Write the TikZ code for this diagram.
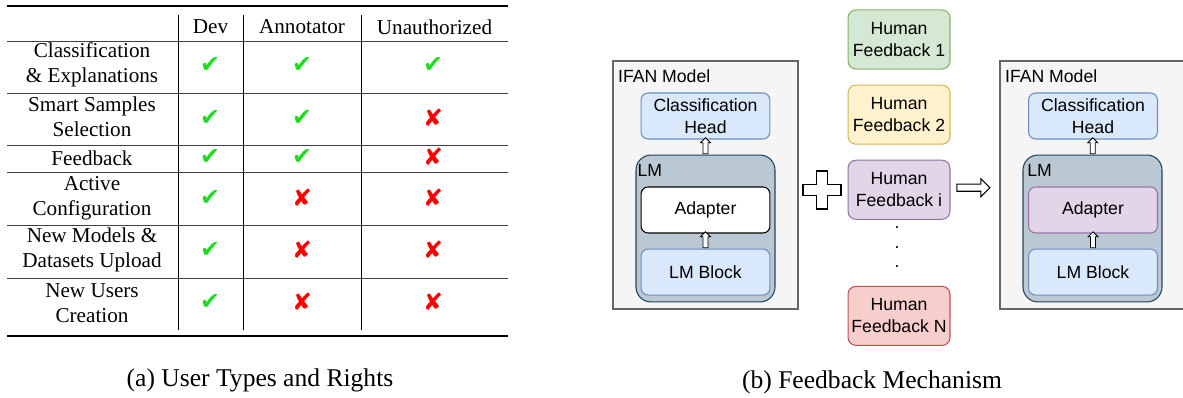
\documentclass[tikz,border=0pt]{standalone}
\usepackage{fontspec}
\setmainfont{Liberation Serif}
\newfontfamily\diagfont{Liberation Sans}
\newfontfamily\symfont{DejaVu Sans}
\usepackage{tikz}
\usetikzlibrary{shapes.arrows,positioning}

\definecolor{modelfill}{HTML}{F5F5F5}
\definecolor{modeldraw}{HTML}{666666}
\definecolor{bluefill}{HTML}{DAE8FC}
\definecolor{bluedraw}{HTML}{6C8EBF}
\definecolor{lmfill}{HTML}{BAC8D3}
\definecolor{lmdraw}{HTML}{23445D}
\definecolor{purplefill}{HTML}{E1D5E7}
\definecolor{purpledraw}{HTML}{9673A6}
\definecolor{greenfill}{HTML}{D5E8D4}
\definecolor{greendraw}{HTML}{82B366}
\definecolor{yellowfill}{HTML}{FFF2CC}
\definecolor{yellowdraw}{HTML}{D6B656}
\definecolor{redfill}{HTML}{F8CECC}
\definecolor{reddraw}{HTML}{B85450}
\definecolor{checkgreen}{RGB}{30,220,30}
\definecolor{crossred}{RGB}{250,0,0}

\newcommand{\yes}{\textcolor{checkgreen}{\symfont ✔}}
\newcommand{\no}{\textcolor{crossred}{\symfont ✘}}

\begin{document}
\begin{tikzpicture}[x=0.567pt, y=-0.567pt]
\tikzset{
  cell/.style={align=center, inner sep=0pt, font=\fontsize{12}{14.2}\selectfont},
  tick/.style={inner sep=0pt, font=\fontsize{13.5}{14}\selectfont},
  toprule/.style={line width=1pt},
  midrule/.style={line width=0.5pt, draw=black!75},
  colrule/.style={line width=0.5pt},
  caption/.style={inner sep=0pt, font=\fontsize{14.5}{16}\selectfont},
  base/.style={draw, align=center, line width=0.6pt, font=\diagfont\fontsize{10}{12.5}\selectfont, inner sep=0pt},
  model/.style={base, fill=modelfill, draw=modeldraw, minimum width=104.9pt, minimum height=140.6pt},
  lm/.style={base, fill=lmfill, draw=lmdraw, rounded corners=8.5pt, minimum width=78.8pt, minimum height=83.3pt},
  part/.style={base, rounded corners=4pt, minimum width=73.1pt, minimum height=26.1pt},
  head/.style={part, fill=bluefill, draw=bluedraw},
  feedback/.style={base, rounded corners=4.5pt, minimum width=57.8pt, minimum height=33.5pt},
  tag/.style={inner sep=0pt, font=\diagfont\fontsize{10}{12}\selectfont},
  fatup/.style={single arrow, draw, fill=white, line width=0.5pt, inner sep=1.15pt, shape border rotate=90, minimum height=9pt, single arrow head extend=1.4pt},
  fatright/.style={single arrow, draw, fill=white, line width=0.6pt, inner sep=1.7pt, minimum height=18.7pt, single arrow head extend=3.1pt},
}
\useasboundingbox (0,0) rectangle (1183,398);

% (a) Table rules
\draw[toprule] (7,6) -- (508,6);
\draw[toprule] (7,336) -- (508,336);
\draw[colrule] (178,15) -- (178,330);
\draw[colrule] (243,15) -- (243,330);
\draw[colrule] (361,15) -- (361,330);
\draw[midrule] (7,41) -- (508,41);
\draw[midrule] (7,93) -- (508,93);
\draw[midrule] (7,145) -- (508,145);
\draw[midrule] (7,172) -- (508,172);
\draw[midrule] (7,225) -- (508,225);
\draw[midrule] (7,278) -- (508,278);

% Header
\node (hdev) [cell] at (210.5,27) {Dev};
\node (hann) [cell] at (302,27) {Annotator};
\node (hunauth) [cell] at (434.5,27) {Unauthorized};

% Rows
\node (r1) [cell] at (92,65) {Classification\\\& Explanations};
\node (r2) [cell] at (92,117) {Smart Samples\\Selection};
\node (r3) [cell] at (92,158) {Feedback};
\node (r4) [cell] at (92,198) {Active\\Configuration};
\node (r5) [cell] at (92,250) {New Models \&\\Datasets Upload};
\node (r6) [cell] at (92,303) {New Users\\Creation};

\foreach \row/\ypos/\da/\an/\un in {1/65/\yes/\yes/\yes, 2/118/\yes/\yes/\no, 3/157/\yes/\yes/\no,
    4/198/\yes/\no/\no, 5/250/\yes/\no/\no, 6/302/\yes/\no/\no} {
  \node (dev\row) [tick] at (210,\ypos) {\da};
  \node (ann\row) [tick] at (302,\ypos) {\an};
  \node (un\row) [tick] at (433,\ypos) {\un};
}

\node (capa) [caption] at (260,380) {(a) User Types and Rights};

% (b) Left IFAN model
\node (lmodel) [model] at (705.5,185) {};
\node (ltag) [tag, below right=5pt and 3pt of lmodel.north west] {IFAN Model};
\node (lhead) [head] at (705.5,116) {Classification\\Head};
\node (llm) [lm] at (705.5,228.5) {};
\node (lmtag) [tag, below right=5.5pt and 1pt of llm.north west] {LM};
\node (ladapter) [part, fill=white, draw=black] at (705.5,210) {Adapter};
\node (lblock) [head, below=8.5pt of ladapter] {LM Block};
\path (llm.north) -- (lhead.south) node (lup1) [fatup, midway] {};
\path (lblock.north) -- (ladapter.south) node (lup2) [fatup, midway] {};

% Plus
\coordinate (plus) at (822,190);
\draw[line width=0.8pt, fill=white, shift={(plus)}] (-19,-5.5) -- (-5.5,-5.5) -- (-5.5,-19) -- (5.5,-19) -- (5.5,-5.5)
  -- (19,-5.5) -- (19,5.5) -- (5.5,5.5) -- (5.5,19) -- (-5.5,19) -- (-5.5,5.5) -- (-19,5.5) -- cycle;

% Human feedback
\node (hf1) [feedback, fill=greenfill, draw=greendraw] at (899,39.5) {Human\\Feedback 1};
\node (hf2) [feedback, fill=yellowfill, draw=yellowdraw, below=8.5pt of hf1] {Human\\Feedback 2};
\node (hfi) [feedback, fill=purplefill, draw=purpledraw, below=8.5pt of hf2] {Human\\Feedback i};
\node (hfn) [feedback, fill=redfill, draw=reddraw, below=37.4pt of hfi] {Human\\Feedback N};
\node (dot1) [tag] at (897,228) {.};
\node (dot2) [tag] at (897,247.5) {.};
\node (dot3) [tag] at (897,267) {.};

% Right IFAN model
\node (rmodel) [model] at (1092.5,185) {};
\node (rtag) [tag, below right=5pt and 3pt of rmodel.north west] {IFAN Model};
\node (rhead) [head] at (1093,116) {Classification\\Head};
\node (rlm) [lm] at (1092.5,228.5) {};
\node (rmtag) [tag, below right=5.5pt and 2.5pt of rlm.north west] {LM};
\node (radapter) [part, fill=purplefill, draw=purpledraw] at (1093,210) {Adapter};
\node (rblock) [head, below=8.5pt of radapter] {LM Block};
\path (rlm.north) -- (rhead.south) node (rup1) [fatup, midway] {};
\path (rblock.north) -- (radapter.south) node (rup2) [fatup, midway] {};

% Arrow to updated model
\path (hfi.east) -- (rmodel.west) node (into) [fatright, pos=0.43] {};

\node (capb) [caption] at (872,382) {(b) Feedback Mechanism};

\end{tikzpicture}
\end{document}
